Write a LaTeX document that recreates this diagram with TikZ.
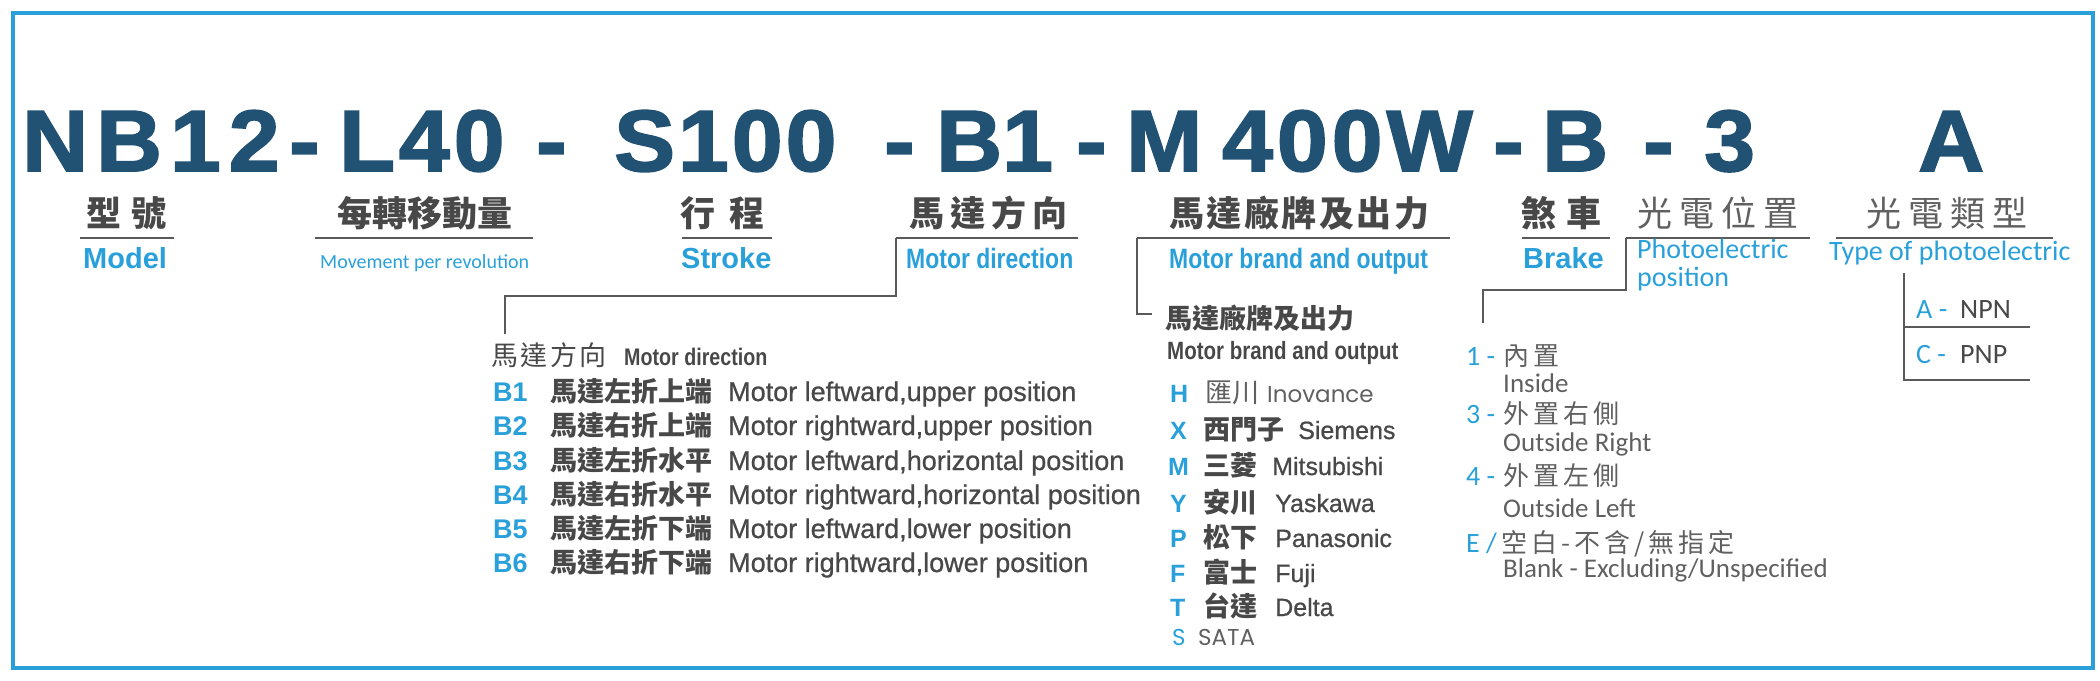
\documentclass[tikz,border=0pt]{standalone}
\usepackage{fontspec}
\setmainfont{Liberation Sans}
\newfontfamily\cjk{Noto Sans CJK TC}
\newfontfamily\narrowb[FakeStretch=0.82]{Liberation Sans}
\newfontfamily\heavy[FakeStretch=1.05,FakeBold=2]{Liberation Sans Bold}
\newfontfamily\medium[FakeBold=0.8]{Liberation Sans}
\newfontfamily\calib{Carlito}
\newfontfamily\geo{Poppins}
\definecolor{dblue}{HTML}{215274}
\definecolor{lblue}{HTML}{29A0DA}
\definecolor{tgray}{HTML}{484848}
\definecolor{lgray}{HTML}{606060}
\definecolor{lnc}{HTML}{5A5A5A}
\newcommand{\gapA}{\hspace{4pt}}
\begin{document}
\begin{tikzpicture}[x=1pt,y=-1pt,
  txt/.style={inner sep=0pt, anchor=base west},
  big/.style={txt, text=dblue, font=\fontsize{87}{87}\selectfont\heavy},
  cjkb/.style={txt, text=tgray, font=\fontsize{35}{35}\selectfont\cjk\bfseries},
  cjkl/.style={txt, text=lgray, font=\fontsize{35}{35}\selectfont\cjk},
  lab/.style={txt, text=lblue, font=\fontsize{29}{29}\selectfont\bfseries},
  labn/.style={txt, text=lblue, font=\fontsize{28}{28}\selectfont\narrowb\bfseries},
  labl/.style={txt, text=lblue, font=\fontsize{28}{28}\selectfont\calib},
  hdn/.style={txt, text=tgray, font=\fontsize{25}{25}\selectfont\narrowb\bfseries},
  hdc/.style={txt, text=tgray, font=\fontsize{27}{27}\selectfont\cjk},
  bl/.style={txt, text=lblue, font=\fontsize{27}{27}\selectfont\bfseries},
  bl25/.style={txt, text=lblue, font=\fontsize{25}{25}\selectfont\bfseries},
  cjkm/.style={txt, text=tgray, font=\fontsize{27}{27}\selectfont\cjk\bfseries},
  cjkr/.style={txt, text=lgray, font=\fontsize{26}{26}\selectfont\cjk},
  en/.style={txt, text=tgray, font=\fontsize{27}{27}\selectfont\medium},
  en25/.style={txt, text=tgray, font=\fontsize{25}{25}\selectfont\medium},
  geol/.style={txt, text=lgray, font=\fontsize{23}{23}\selectfont\geo},
  num/.style={txt, text=lblue, font=\fontsize{28}{28}\selectfont\calib},
  lite/.style={txt, text=lgray, font=\fontsize{27}{27}\selectfont\calib},
  uline/.style={draw=lnc, line width=2.5pt},
  conn/.style={draw=lnc, line width=2.5pt},
  border/.style={draw=lblue, line width=3.5pt}]
\useasboundingbox (0,0) rectangle (2100,680);
\draw[border] (13,13) rectangle (2093,668);

% big code line
\node[big] (nb) at (22,171) {N\kern8pt B\kern8pt 1\kern8pt 2};
\node[big] (d1) at (289,171) {-};
\node[big] (l40) at (339,171) {L\kern4pt 4\kern4pt 0};
\node[big] (d2) at (536,171) {-};
\node[big] (s100) at (614,171) {S\kern3pt 1\kern3pt 0\kern3pt 0};
\node[big] (d3) at (884,171) {-};
\node[big] (b1big) at (936,171) {B1};
\node[big] (d4) at (1076,171) {-};
\node[big] (mbig) at (1126,171) {M};
\node[big] (w400) at (1222,171) {4\kern4pt 0\kern4pt 0\kern4pt W};
\node[big] (d5) at (1493,171) {-};
\node[big] (bbig) at (1542,171) {B};
\node[big] (d6) at (1643,171) {-};
\node[big] (n3) at (1704,171) {3};
\node[big] (abig) at (1918,171) {A};

% chinese labels
\node[cjkb] (c1) at (86,226) {型\hspace{10pt}號};
\node[cjkb] (c2) at (337,226) {每轉移動量};
\node[cjkb] (c3) at (680,226) {行\hspace{14pt}程};
\node[cjkb] (c4) at (909,226) {馬\hspace{6pt}達\hspace{6pt}方\hspace{6pt}向};
\node[cjkb] (c5) at (1169,226) {馬\hspace{2.5pt}達\hspace{2.5pt}廠\hspace{2.5pt}牌\hspace{2.5pt}及\hspace{2.5pt}出\hspace{2.5pt}力};
\node[cjkb] (c6) at (1521,226) {煞\hspace{10pt}車};
\node[cjkl] (c7) at (1637,226) {光\hspace{7pt}電\hspace{7pt}位\hspace{7pt}置};
\node[cjkl] (c8) at (1866,226) {光\hspace{7pt}電\hspace{7pt}類\hspace{7pt}型};

% underlines
\coordinate (u1a) at (80,238);   \coordinate (u1b) at (174,238);
\coordinate (u2a) at (315,238);  \coordinate (u2b) at (533,238);
\coordinate (u3a) at (682,238);  \coordinate (u3b) at (772,238);
\coordinate (u4a) at (896,238);  \coordinate (u4b) at (1078,238);
\coordinate (u5a) at (1137,238); \coordinate (u5b) at (1450,238);
\coordinate (u6a) at (1522,238); \coordinate (u6b) at (1610,238);
\coordinate (u7a) at (1626,238); \coordinate (u7b) at (1810,238);
\coordinate (u8a) at (1836,238); \coordinate (u8b) at (2053,238);
\draw[uline] (u1a) -- (u1b);
\draw[uline] (u2a) -- (u2b);
\draw[uline] (u3a) -- (u3b);
\draw[uline] (u4a) -- (u4b);
\draw[uline] (u5a) -- (u5b);
\draw[uline] (u6a) -- (u6b);
\draw[uline] (u7a) -- (u7b);
\draw[uline] (u8a) -- (u8b);

% english labels
\node[lab] (e1) at (83,268) {Model};
\node[txt, text=lblue, font=\fontsize{20}{20}\selectfont\calib] (e2) at (320,268) {Movement per revolution};
\node[lab] (e3) at (681,268) {Stroke};
\node[labn] (e4) at (906,268) {Motor direction};
\node[labn] (e5) at (1169,268) {Motor brand and output};
\node[lab] (e6) at (1523,268) {Brake};
\node[labl] (e7) at (1637,258) {Photoelectric};
\node[labl] (e7b) at (1637,286) {position};
\node[labl] (e8) at (1829,260) {Type of photoelectric};

% connector: motor direction
\coordinate (mdK) at (505,296);
\coordinate (mdE) at (505,334);
\draw[conn] (u4a) |- (mdK) -- (mdE);
\node[hdc] (mdH) at (491,365) {馬\hspace{2.5pt}達\hspace{2.5pt}方\hspace{2.5pt}向};
\node[hdn, font=\fontsize{24}{24}\selectfont\narrowb\bfseries] (mdHe) at (624,365) {Motor direction};

\node[bl] (b1) at (493,401) {B1}; \node[cjkm] (b1c) at (550,401) {馬達左折上端}; \node[en] (b1e) at (728,401) {Motor leftward,upper position};
\node[bl] (b2) at (493,435) {B2}; \node[cjkm] (b2c) at (550,435) {馬達右折上端}; \node[en] (b2e) at (728,435) {Motor rightward,upper position};
\node[bl] (b3) at (493,470) {B3}; \node[cjkm] (b3c) at (550,470) {馬達左折水平}; \node[en] (b3e) at (728,470) {Motor leftward,horizontal position};
\node[bl] (b4) at (493,504) {B4}; \node[cjkm] (b4c) at (550,504) {馬達右折水平}; \node[en] (b4e) at (728,504) {Motor rightward,horizontal position};
\node[bl] (b5) at (493,538) {B5}; \node[cjkm] (b5c) at (550,538) {馬達左折下端}; \node[en] (b5e) at (728,538) {Motor leftward,lower position};
\node[bl] (b6) at (493,572) {B6}; \node[cjkm] (b6c) at (550,572) {馬達右折下端}; \node[en] (b6e) at (728,572) {Motor rightward,lower position};

% connector: motor brand
\coordinate (mbE) at (1152,314);
\draw[conn] (u5a) |- (mbE);
\node[cjkm] (mbH) at (1165,328) {馬達廠牌及出力};
\node[hdn] (mbHe) at (1167,359) {Motor brand and output};

\node[bl25] (kH) at (1170,402) {H}; \node[hdc, text=lgray] (kHc) at (1205,402) {匯川}; \node[geol] (kHe) at (1267,402) {Inovance};
\node[bl25] (kX) at (1170,439) {X}; \node[cjkm] (kXc) at (1203,439) {西門子}; \node[en25] (kXe) at (1298,439) {Siemens};
\node[bl25] (kM) at (1168,475) {M}; \node[cjkm] (kMc) at (1203,475) {三菱}; \node[en25] (kMe) at (1272,475) {Mitsubishi};
\node[bl25] (kY) at (1170,512) {Y}; \node[cjkm] (kYc) at (1203,512) {安川}; \node[en25] (kYe) at (1275,512) {Yaskawa};
\node[bl25] (kP) at (1170,547) {P}; \node[cjkm] (kPc) at (1203,547) {松下}; \node[en25] (kPe) at (1275,547) {Panasonic};
\node[bl25] (kF) at (1170,582) {F}; \node[cjkm] (kFc) at (1203,582) {富士}; \node[en25] (kFe) at (1275,582) {Fuji};
\node[bl25] (kT) at (1170,616) {T}; \node[cjkm] (kTc) at (1203,616) {台達}; \node[en25] (kTe) at (1275,616) {Delta};
\node[geol, text=lblue] (kS) at (1172,645) {S}; \node[geol] (kSe) at (1198,645) {SATA};

% connector: photoelectric position
\coordinate (ppK) at (1483,290);
\coordinate (ppE) at (1483,323);
\draw[conn] (u7a) |- (ppK) -- (ppE);
\node[num] (p1) at (1466,365) {1 -}; \node[cjkr] (p1c) at (1503,365) {內\gapA 置}; \node[lite] (p1e) at (1503,392) {Inside};
\node[num] (p3) at (1466,423) {3 -}; \node[cjkr] (p3c) at (1503,423) {外\gapA 置\gapA 右\gapA 側}; \node[lite] (p3e) at (1503,451) {Outside Right};
\node[num] (p4) at (1466,485) {4 -}; \node[cjkr] (p4c) at (1503,485) {外\gapA 置\gapA 左\gapA 側}; \node[lite] (p4e) at (1503,517) {Outside Left};
\node[num] (pE) at (1466,552) {E /}; \node[cjkr] (pEc) at (1501,552) {空\gapA 白\gapA -\gapA 不\gapA 含\gapA /\gapA 無\gapA 指\gapA 定}; \node[lite] (pEe) at (1503,577) {Blank - Excluding/Unspecified};

% type of photoelectric
\coordinate (tpT) at (1904,273);
\coordinate (tpB) at (1904,380);
\coordinate (tpBr) at (2030,380);
\coordinate (tpM) at (1904,327);
\coordinate (tpMr) at (2030,327);
\draw[conn] (tpT) -- (tpB) -- (tpBr);
\draw[conn] (tpM) -- (tpMr);
\node[num] (ta) at (1916,318) {A -}; \node[txt, text=tgray, font=\fontsize{28}{28}\selectfont\calib] (tan) at (1960,318) {NPN};
\node[num] (tc) at (1916,363) {C -}; \node[txt, text=tgray, font=\fontsize{28}{28}\selectfont\calib] (tcn) at (1960,363) {PNP};
\end{tikzpicture}
\end{document}
